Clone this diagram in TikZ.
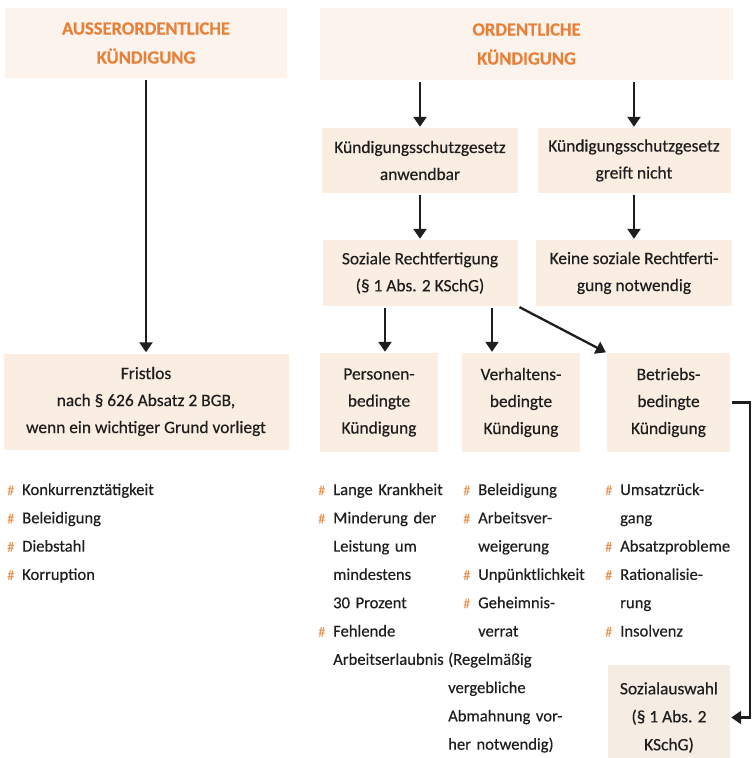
\documentclass[tikz,border=0pt]{standalone}
\usepackage{fontspec}
\setmainfont{Carlito}[FakeBold=0.35]
\usetikzlibrary{arrows.meta}

\definecolor{boxfill}{RGB}{250,237,226}
\definecolor{headfill}{RGB}{252,243,236}
\definecolor{auswahlfill}{RGB}{245,237,228}
\definecolor{headorange}{RGB}{232,128,58}
\definecolor{bulletorange}{RGB}{233,150,84}
\definecolor{inkgray}{RGB}{30,30,30}

\newcommand{\bul}{\makebox[15pt][l]{\color{bulletorange}\fontsize{14}{14}\selectfont\#}}
\newcommand{\ind}{\hspace*{15pt}}

\tikzset{
    box/.style={fill=boxfill, text=inkgray, align=center, inner sep=0pt},
    head/.style={box, fill=headfill, text=headorange,
        font=\fontsize{18.5}{29}\selectfont\bfseries},
    arr/.style={draw=inkgray, line width=2.3pt,
        -{Triangle[width=13pt,length=10pt]}, shorten <=2pt, shorten >=1pt},
    list/.style={anchor=base west, align=left, inner sep=0pt, text=inkgray,
        text width=170pt}
}

\begin{document}
\begin{tikzpicture}[x=1pt, y=-1pt, font=\fontsize{17.4}{27}\selectfont]
    \useasboundingbox (0,0) rectangle (754,758);
    %% Headings
    \node[head, minimum width=282pt, minimum height=70pt] (aok) at (146,43)
        {AUSSERORDENTLICHE\\KÜNDIGUNG};
    \node[head, minimum width=413pt, minimum height=72pt] (ok) at (526.5,44)
        {ORDENTLICHE\\KÜNDIGUNG};
    %% Kuendigungsschutzgesetz
    \node[box, minimum width=196pt, minimum height=65pt] (ksa) at (420,160.5)
        {Kündigungsschutzgesetz\\anwendbar};
    \node[box, minimum width=193pt, minimum height=65pt] (ksn) at (634,160.5)
        {Kündigungsschutzgesetz\\greift nicht};
    \node[box, minimum width=195pt, minimum height=66pt] (srf) at (420,273)
        {Soziale Rechtfertigung\\(§ 1 Abs. 2 KSchG)};
    \node[box, minimum width=196pt, minimum height=66pt] (ksr) at (634,273)
        {Keine soziale Rechtferti-\\gung notwendig};
    %% Kuendigungsarten
    \node[box, minimum width=285pt, minimum height=96pt] (frist) at (146,401.5)
        {Fristlos\\nach § 626 Absatz 2 BGB,\\wenn ein wichtiger Grund vorliegt};
    \node[box, minimum width=118pt, minimum height=99pt] (pers) at (379,402.5)
        {Personen-\\bedingte\\Kündigung};
    \node[box, minimum width=118pt, minimum height=99pt] (verh) at (521,402.5)
        {Verhaltens-\\bedingte\\Kündigung};
    \node[box, minimum width=123pt, minimum height=99pt] (betr) at (668.5,402.5)
        {Betriebs-\\bedingte\\Kündigung};
    \node[box, fill=auswahlfill, minimum width=122pt, minimum height=105pt,
        font=\fontsize{17.4}{28}\selectfont] (sozw) at (669,717.5)
        {Sozialauswahl\\(§ 1 Abs. 2\\KSchG)};
    %% Beispiele
    \begin{scope}[font=\fontsize{16.6}{28.3}\selectfont]
        \node[list] (bsp1) at (7,495)
            {\bul Konkurrenztätigkeit\\\bul Beleidigung\\\bul Diebstahl\\\bul Korruption};
        \node[list] (bsp2) at (318,495)
            {\bul Lange Krankheit\\\bul Minderung der\\\ind Leistung um\\\ind mindestens\\
             \ind 30 Prozent\\\bul Fehlende\\\ind Arbeitserlaubnis};
        \node[list] (bsp3) at (448,495)
            {\ind\bul Beleidigung\\\ind\bul Arbeitsver-\\\ind\ind weigerung\\
             \ind\bul Unpünktlichkeit\\\ind\bul Geheimnis-\\\ind\ind verrat\\
             (Regelmäßig\\vergebliche\\Abmahnung vor-\\her notwendig)};
        \node[list] (bsp4) at (605,495)
            {\bul Umsatzrück-\\\ind gang\\\bul Absatzprobleme\\\bul Rationalisie-\\
             \ind rung\\\bul Insolvenz};
    \end{scope}
    %% Pfeile
    \draw[arr] (aok) -- (frist);
    \draw[arr] (ksa |- ok.south) -- (ksa);
    \draw[arr] (ksn |- ok.south) -- (ksn);
    \draw[arr] (ksa) -- (srf);
    \draw[arr] (ksn) -- (ksr);
    \draw[arr] ([xshift=-35pt]srf.south) -- ([xshift=-35pt]srf.south |- pers.north);
    \draw[arr] ([xshift=72pt]srf.south) -- ([xshift=72pt]srf.south |- verh.north);
    \draw[arr] (srf.south east) -- (betr.north west);
    \draw[arr] (betr.east) -- ++(20,0) |- (sozw.east);
\end{tikzpicture}
\end{document}
